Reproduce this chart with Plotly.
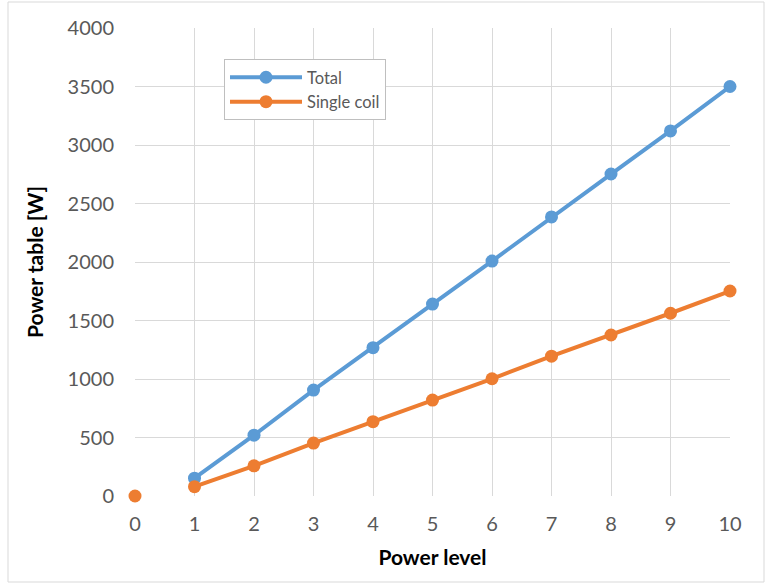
import plotly.graph_objects as go

levels = [1, 2, 3, 4, 5, 6, 7, 8, 9, 10]
total = [152, 520, 905, 1268, 1640, 2008, 2385, 2752, 3120, 3500]
single_coil = [80, 258, 452, 635, 820, 1002, 1195, 1376, 1562, 1752]
zero_level = [0]
zero_value = [0]
x_ticks = [0, 1, 2, 3, 4, 5, 6, 7, 8, 9, 10]
y_ticks = [0, 500, 1000, 1500, 2000, 2500, 3000, 3500, 4000]

BLUE = "#5b9bd5"
ORANGE = "#ed7d31"
FONT = "Lato, Carlito, Calibri, sans-serif"

fig = go.Figure()
fig.add_trace(go.Scatter(x=levels, y=total, name="Total", mode="lines+markers",
                         line=dict(color=BLUE, width=4), marker=dict(size=13, color=BLUE)))
fig.add_trace(go.Scatter(x=levels, y=single_coil, name="Single coil", mode="lines+markers",
                         line=dict(color=ORANGE, width=4), marker=dict(size=13, color=ORANGE)))
fig.add_trace(go.Scatter(x=zero_level, y=zero_value, mode="markers", showlegend=False,
                         marker=dict(size=13, color=ORANGE)))

W, H = 765, 586
L, R, T, B = 135, 35, 28, 90
fig.update_layout(
    width=W, height=H,
    margin=dict(l=L, r=R, t=T, b=B),
    paper_bgcolor="white", plot_bgcolor="white",
    font=dict(family=FONT, size=20, color="#595959"),
    showlegend=True,
    legend=dict(x=(224 - L) / (W - L - R), y=(H - B - 59) / (H - T - B), xanchor="left", yanchor="top",
                bordercolor="#bfbfbf", borderwidth=1, bgcolor="white",
                font=dict(family=FONT, size=16.5, color="#595959"),
                itemwidth=72, tracegroupgap=4),
    xaxis=dict(range=[0, 10], tickvals=x_ticks, showgrid=True, gridcolor="#d9d9d9",
               gridwidth=1.3, zeroline=False, showline=False, ticks="",
               ticklabelstandoff=14,
               title=dict(text="<b>Power level</b>", font=dict(family=FONT, size=21, color="black"), standoff=16)),
    yaxis=dict(range=[0, 4000], tickvals=y_ticks, showgrid=True, gridcolor="#d9d9d9",
               gridwidth=1.3, zeroline=False, showline=False, ticks="",
               ticklabelstandoff=20,
               title=dict(text="<b>Power table [W]</b>", font=dict(family=FONT, size=21, color="black"), standoff=18)),
)
fig.update_traces(cliponaxis=False)

pw = W - L - R
ph = H - T - B
# outer chart border (image pixels 8..764 x 2..582)
fig.add_shape(type="rect", xref="paper", yref="paper",
              x0=(8 - L) / pw, x1=(764 - L) / pw,
              y0=(T + ph - 582) / ph, y1=(T + ph - 2) / ph,
              line=dict(color="#d9d9d9", width=1), layer="below")

fig.write_html("out.html", config={"displayModeBar": False},
               post_script="document.body.style.margin='0';document.body.style.overflow='hidden';")
